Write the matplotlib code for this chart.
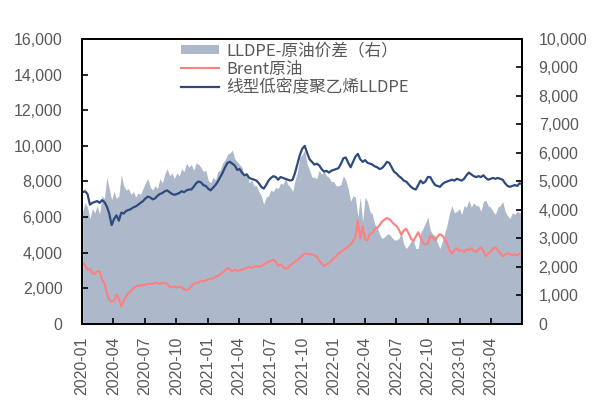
import matplotlib
matplotlib.use('Agg')

import matplotlib.pyplot as plt
import matplotlib.dates as mdates
from matplotlib.ticker import FuncFormatter, MultipleLocator
import pandas as pd

# weekly samples (Fridays), 2020-01-03 .. 2023-06-30
dates = pd.date_range('2020-01-03', '2023-06-30', freq='W-FRI')

lldpe = [
    7400, 7450, 7300, 6700, 6800, 6850, 6900, 6800, 6950, 6850,
    6600, 6200, 5550, 5900, 6100, 5800, 6250, 6200, 6350, 6400,
    6450, 6550, 6600, 6700, 6800, 6900, 7050, 7150, 7100, 7000,
    7050, 7200, 7300, 7350, 7450, 7500, 7400, 7300, 7250, 7300,
    7350, 7450, 7400, 7500, 7550, 7550, 7700, 7900, 8000, 7950,
    7800, 7750, 7600, 7500, 7650, 7800, 8000, 8250, 8500, 8800,
    9050, 9100, 9000, 8900, 8650, 8700, 8500, 8350, 8400, 8200,
    8150, 8100, 8050, 7900, 7700, 7600, 7800, 8050, 8200, 8300,
    8250, 8100, 8250, 8200, 8150, 8100, 8050, 8100, 8500, 9000,
    9500, 9850, 10000, 9600, 9250, 9100, 8950, 9000, 8900, 8700,
    8550, 8600, 8500, 8600, 8650, 8700, 8750, 9000, 9300, 9350,
    9050, 8800, 9100, 9400, 9550, 9250, 9100, 9200, 9050, 9000,
    8950, 8850, 8800, 8700, 8750, 8900, 9100, 9050, 8800, 8550,
    8450, 8300, 8200, 8050, 8000, 7850, 7700, 7600, 7550, 7800,
    8050, 7900, 8000, 8250, 8250, 8000, 7800, 7750, 7700, 7850,
    7950, 8000, 8050, 8100, 8050, 8150, 8100, 8050, 8150, 8350,
    8500, 8400, 8300, 8250, 8300, 8250, 8350, 8200, 8100, 8150,
    8200, 8150, 8200, 8150, 8100, 7900, 7750, 7700, 7750, 7800,
    7750, 7900, 7850,
]

brent = [
    3450, 3300, 3050, 3100, 2850, 2800, 2950, 2950, 2500, 2300,
    1750, 1350, 1250, 1300, 1650, 1400, 1000, 1300, 1550, 1750,
    1850, 2000, 2100, 2150, 2150, 2200, 2200, 2250, 2250, 2250,
    2300, 2300, 2250, 2300, 2300, 2250, 2100, 2050, 2100, 2050,
    2100, 2050, 1950, 1900, 1950, 2100, 2250, 2300, 2350, 2400,
    2400, 2450, 2500, 2550, 2550, 2650, 2700, 2800, 2900, 3000,
    3150, 3050, 2950, 3050, 3000, 3000, 3050, 3100, 3150, 3200,
    3150, 3200, 3250, 3200, 3250, 3350, 3400, 3500, 3550, 3600,
    3500, 3250, 3350, 3200, 3100, 3150, 3300, 3400, 3500, 3600,
    3700, 3850, 3950, 3950, 3900, 3900, 3850, 3800, 3550, 3400,
    3250, 3350, 3400, 3550, 3700, 3800, 3950, 4050, 4150, 4250,
    4350, 4450, 4650, 4900, 5800, 4800, 5500, 4750, 4700, 5050,
    5100, 5350, 5400, 5550, 5750, 5850, 5950, 5900, 5750, 5600,
    5500, 5300, 5000, 5250, 5350, 5100, 4800, 4650, 4900, 5150,
    4850, 4550, 4450, 4500, 4950, 4850, 4700, 4900, 5050, 4950,
    4750, 4500, 4150, 3950, 4150, 4250, 4100, 4150, 4050, 4200,
    4150, 4250, 4100, 4050, 4200, 4300, 4100, 3800, 3950, 4050,
    4250, 4300, 4150, 3950, 3800, 3900, 3950, 3950, 3850, 3900,
    3850, 3950, 3950,
]

spread = [
    3950, 4250, 4100, 3700, 4050, 3900, 4150, 3850, 4500, 4400,
    5150, 4750, 4350, 4650, 4400, 4500, 5250, 4850, 4700, 4750,
    4550, 4650, 4450, 4600, 4550, 4750, 4950, 5100, 4800, 4700,
    4850, 4750, 5100, 4950, 5250, 5450, 5200, 5300, 5100, 5300,
    5200, 5450, 5350, 5650, 5500, 5600, 5400, 5650, 5600, 5500,
    5350, 5400, 5050, 4950, 5150, 5050, 5350, 5400, 5650, 5750,
    5950, 6000, 6100, 5800, 5700, 5600, 5500, 5200, 5300, 4950,
    5050, 4850, 4850, 4650, 4500, 4200, 4450, 4500, 4700, 4650,
    4800, 4750, 4950, 4900, 5100, 4900, 4800, 4650, 5050, 5350,
    5850, 5950, 6100, 5600, 5400, 5150, 5150, 5100, 5400, 5250,
    5350, 5200, 5150, 5000, 5000, 4850, 4850, 4900, 5200, 5050,
    4750, 4300, 4500, 4450, 3750, 4450, 3600, 4450, 4300, 3950,
    3850, 3500, 3400, 3150, 3000, 3050, 3150, 3150, 3050, 2950,
    2950, 3000, 3200, 2800, 2650, 2750, 2900, 2950, 2650, 2650,
    3200, 3350, 3550, 3750, 3300, 3150, 3100, 2850, 2650, 2900,
    3200, 3500, 3900, 4150, 3900, 3950, 4050, 3850, 4150, 4100,
    4350, 4100, 4250, 4150, 4150, 3950, 4300, 4350, 4150, 4100,
    3950, 3850, 4100, 4150, 4300, 3950, 3800, 3700, 3900, 3850,
    3950, 3900, 3900,
]

label_spread = 'LLDPE-原油价差（右）'
label_brent = 'Brent原油'
label_lldpe = '线型低密度聚乙烯LLDPE'

tick_color = '#595959'
area_color = '#ADB9CA'
brent_color = '#FF7F7F'
lldpe_color = '#2E4A7D'

plt.rcParams['font.family'] = ['Liberation Sans', 'Noto Sans CJK SC', 'DejaVu Sans']

fig = plt.figure(figsize=(6.05, 4.18), dpi=100)
ax = fig.add_axes([0.1355, 0.2249, 0.7273, 0.6818])
ax2 = ax.twinx()

# spread area on the right axis, kept behind the lines
area = ax2.fill_between(dates, 0, spread, color=area_color, linewidth=0, label=label_spread)
ax.set_zorder(ax2.get_zorder() + 1)
ax.patch.set_visible(False)

l1, = ax.plot(dates, brent, color=brent_color, lw=1.5, label=label_brent)
l2, = ax.plot(dates, lldpe, color=lldpe_color, lw=1.6, label=label_lldpe)

ax.set_ylim(0, 16000)
ax2.set_ylim(0, 10000)
ax.yaxis.set_major_locator(MultipleLocator(2000))
ax2.yaxis.set_major_locator(MultipleLocator(1000))
fmt = FuncFormatter(lambda v, p: '{:,.0f}'.format(v))
ax.yaxis.set_major_formatter(fmt)
ax2.yaxis.set_major_formatter(fmt)

ax.set_xlim(pd.Timestamp('2020-01-01'), pd.Timestamp('2023-06-30'))
ax.xaxis.set_major_locator(mdates.MonthLocator(bymonth=[1, 4, 7, 10]))
ax.xaxis.set_major_formatter(mdates.DateFormatter('%Y-%m'))

ax.tick_params(axis='y', direction='in', length=4, width=1.2, labelsize=11.5, colors='black',
               labelcolor=tick_color, pad=14)
ax.tick_params(axis='x', direction='in', length=4, width=1.2, labelsize=11.5, colors='black',
               labelcolor=tick_color, pad=9, labelrotation=90)
ax2.tick_params(axis='y', direction='in', length=4, width=1.2, labelsize=11.5, colors='black',
                labelcolor=tick_color, pad=12)

for a in (ax, ax2):
    for s in a.spines.values():
        s.set_color('black')
        s.set_linewidth(1.3)

leg = ax.legend([area, l1, l2], [label_spread, label_brent, label_lldpe],
                loc='upper left', bbox_to_anchor=(181 / 605, 1 - 42 / 418),
                bbox_transform=fig.transFigure, frameon=False,
                prop={'family': ['Noto Sans CJK SC'], 'size': 12},
                handlelength=2.3, handleheight=0.45, handletextpad=0.4,
                labelspacing=0.1, borderpad=0, borderaxespad=0)
for t in leg.get_texts():
    t.set_color(tick_color)

plt.savefig('out.png', dpi=100)
plt.close()
